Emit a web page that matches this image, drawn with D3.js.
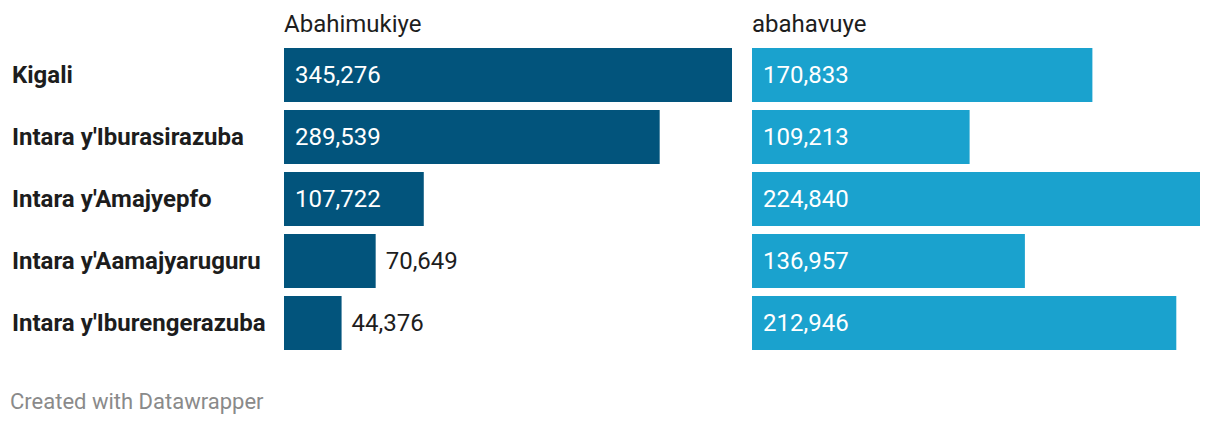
<!DOCTYPE html>
<html><head><meta charset="utf-8">
<script src="https://cdn.jsdelivr.net/npm/d3@7"></script>
<style>body{margin:0;background:#fff;font-family:Roboto,sans-serif;}</style>
</head><body><svg id="c" width="1220" height="426"></svg>
<script>
const categories = ["Kigali","Intara y'Iburasirazuba","Intara y'Amajyepfo","Intara y'Aamajyaruguru","Intara y'Iburengerazuba"];
const seriesNames = ["Abahimukiye","abahavuye"];
const abahimukiye = [345276,289539,107722,70649,44376];
const abahavuye = [170833,109213,224840,136957,212946];
const colors = ["#02547c","#1aa2ce"];

const svg = d3.select("#c");
const fmt = d3.format(",");
const y = d3.scaleBand().domain(categories).range([48,350]).paddingInner(8/62).paddingOuter(0);
const panels = [
  {name: seriesNames[0], vals: abahimukiye, x0: 284, x1: 732, color: colors[0]},
  {name: seriesNames[1], vals: abahavuye, x0: 752, x1: 1200, color: colors[1]}
];
const fs = 24;
svg.selectAll("text.cat").data(categories).join("text")
  .attr("x", 12).attr("y", d => y(d) + y.bandwidth()/2)
  .attr("dy","0.35em").attr("font-weight","bold").attr("font-size",fs).attr("fill","#1d1d1d").text(d=>d);

panels.forEach(p => {
  const x = d3.scaleLinear().domain([0, d3.max(p.vals)]).range([p.x0, p.x1]);
  const g = svg.append("g");
  g.append("text").attr("x", p.x0).attr("y", 32).attr("font-size", fs).attr("fill","#1d1d1d").text(p.name);
  const data = categories.map((c,i)=>({c, v:p.vals[i]}));
  g.selectAll("rect").data(data).join("rect")
    .attr("x", x(0)).attr("y", d=>y(d.c)).attr("width", d=>x(d.v)-x(0)).attr("height", y.bandwidth())
    .attr("fill", p.color);
  g.selectAll("text.v").data(data).join("text")
    .attr("font-size", fs)
    .attr("y", d=>y(d.c)+y.bandwidth()/2).attr("dy","0.35em")
    .each(function(d){
      const w = x(d.v)-x(0);
      const inside = w > 110;
      d3.select(this).attr("x", inside ? x(0)+11 : x(d.v)+10)
        .attr("fill", inside ? "#fff" : "#1d1d1d").text(fmt(d.v));
    });
});
svg.append("text").attr("x", 10).attr("y", 409).attr("font-size", 22).attr("fill","#8a8a8a").text("Created with Datawrapper");
</script></body></html>
